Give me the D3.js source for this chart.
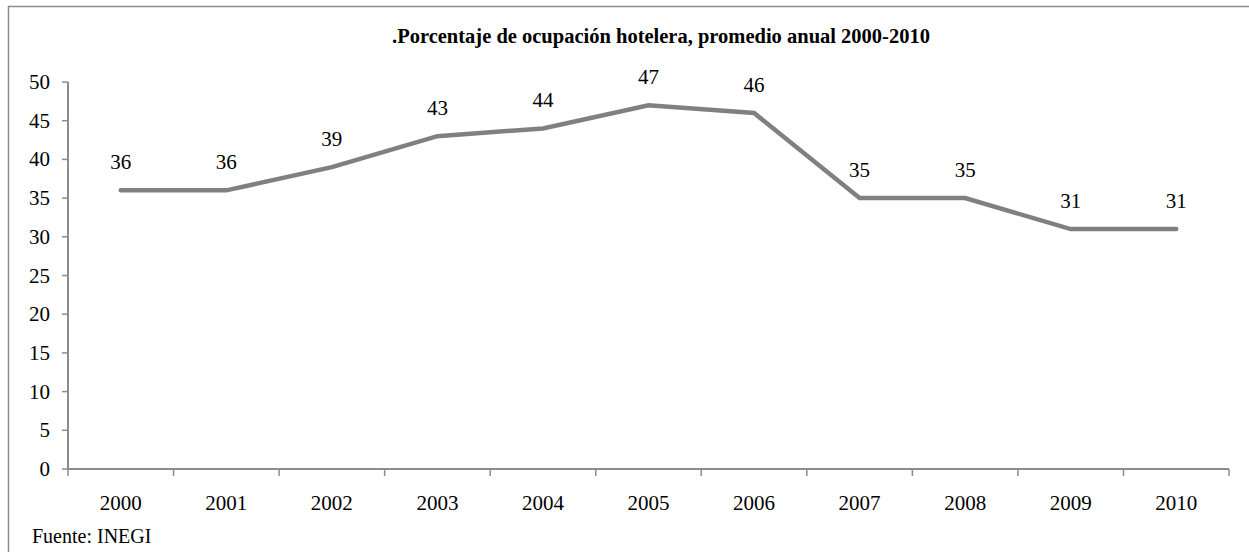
<!DOCTYPE html>
<html>
<head>
<meta charset="utf-8">
<script src="https://cdn.jsdelivr.net/npm/d3@7"></script>
<style>
  body { margin: 0; background: #fff; }
  text { font-family: "Liberation Serif", "Times New Roman", serif; fill: #000; }
</style>
</head>
<body>
<svg id="chart"></svg>
<script>
let years = ["2000", "2001", "2002", "2003", "2004", "2005", "2006", "2007", "2008", "2009", "2010"];
let ocupacion = [36, 36, 39, 43, 44, 47, 46, 35, 35, 31, 31];
let yTicks = [0, 5, 10, 15, 20, 25, 30, 35, 40, 45, 50];

let W = 1249, H = 552;
let margin = {top: 82, right: 20, bottom: 83, left: 68},
    width = 1229 - margin.left,
    height = 469 - margin.top;

let root = d3.select("#chart")
    .attr("width", W)
    .attr("height", H);

// marco exterior
root.append("rect")
    .attr("x", 8.5)
    .attr("y", 6.5)
    .attr("width", W)
    .attr("height", H)
    .attr("fill", "none")
    .attr("stroke", "#8c8c8c")
    .attr("stroke-width", 1.5);

root.append("text")
    .attr("x", 661)
    .attr("y", 43)
    .attr("text-anchor", "middle")
    .style("font-size", "20.5px")
    .style("font-weight", "bold")
    .text(".Porcentaje de ocupación hotelera, promedio anual 2000-2010");

root.append("text")
    .attr("x", 32)
    .attr("y", 543)
    .style("font-size", "20px")
    .text("Fuente: INEGI");

let svg = root.append("g")
    .attr("transform", "translate(" + margin.left + "," + margin.top + ")");

let x = d3.scaleBand()
    .range([0, width])
    .domain(years);

let y = d3.scaleLinear()
    .range([height, 0])
    .domain([0, 50]);

// eje x
let xAxis = svg.append("g")
    .attr("transform", "translate(0," + height + ")");
xAxis.append("line")
    .attr("x1", 0).attr("x2", width)
    .attr("stroke", "#8c8c8c").attr("stroke-width", 2);
let xBounds = years.map(function (d) { return x(d); }).concat([width]);
xAxis.selectAll(".tk").data(xBounds).enter()
    .append("line")
    .attr("x1", function (d) { return d; })
    .attr("x2", function (d) { return d; })
    .attr("y1", 0).attr("y2", 7)
    .attr("stroke", "#8c8c8c").attr("stroke-width", 1.5);
xAxis.selectAll(".lbl").data(years).enter()
    .append("text")
    .attr("x", function (d) { return x(d) + x.bandwidth() / 2; })
    .attr("y", 41)
    .attr("text-anchor", "middle")
    .style("font-size", "21px")
    .text(function (d) { return d; });

// eje y
let yAxis = svg.append("g");
yAxis.append("line")
    .attr("y1", 0).attr("y2", height)
    .attr("stroke", "#8c8c8c").attr("stroke-width", 2);
yAxis.selectAll(".tk").data(yTicks).enter()
    .append("line")
    .attr("x1", -6).attr("x2", 0)
    .attr("y1", function (d) { return y(d); })
    .attr("y2", function (d) { return y(d); })
    .attr("stroke", "#8c8c8c").attr("stroke-width", 1.5);
yAxis.selectAll(".lbl").data(yTicks).enter()
    .append("text")
    .attr("x", -18)
    .attr("y", function (d) { return y(d) + 7; })
    .attr("text-anchor", "end")
    .style("font-size", "21px")
    .text(function (d) { return d; });

// serie
let points = years.map(function (d, i) { return {year: d, value: ocupacion[i]}; });
let line = d3.line()
    .x(function (d) { return x(d.year) + x.bandwidth() / 2; })
    .y(function (d) { return y(d.value); });

svg.append("path")
    .datum(points)
    .attr("d", line)
    .attr("fill", "none")
    .attr("stroke", "#808080")
    .attr("stroke-width", 4.5)
    .attr("stroke-linecap", "round")
    .attr("stroke-linejoin", "miter");

svg.selectAll(".dl").data(points).enter()
    .append("text")
    .attr("x", function (d) { return x(d.year) + x.bandwidth() / 2; })
    .attr("y", function (d) { return y(d.value) - 21; })
    .attr("text-anchor", "middle")
    .style("font-size", "21px")
    .text(function (d) { return d.value; });
</script>
</body>
</html>
